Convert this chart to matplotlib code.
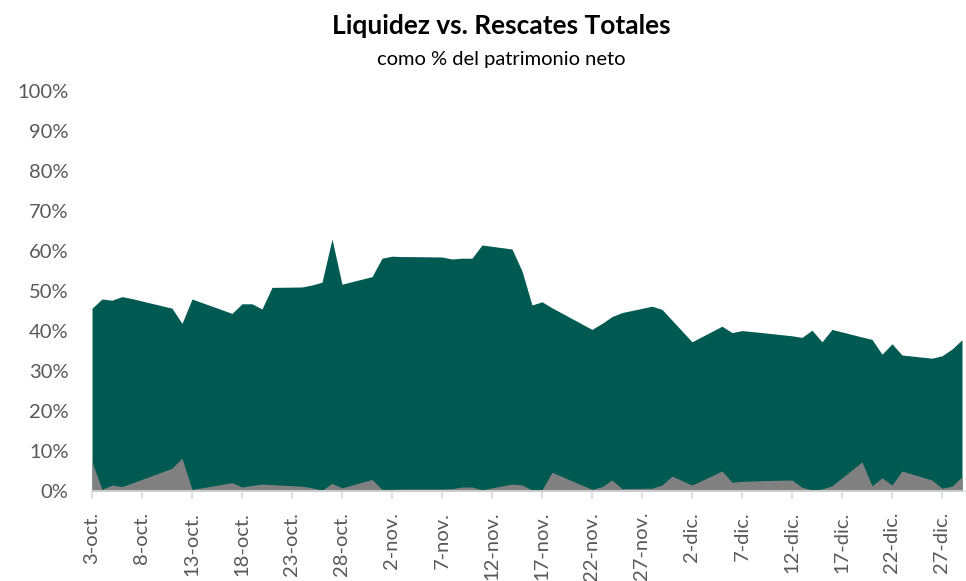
import pandas as pd
import matplotlib
matplotlib.use("Agg")
import matplotlib.pyplot as plt
import matplotlib.dates as mdates
from matplotlib.ticker import FixedLocator, FuncFormatter

# fechas (2022), solo días hábiles con dato
fechas = [
    "10-03", "10-04", "10-05", "10-06", "10-07", "10-11", "10-12", "10-13", "10-14", "10-17",
    "10-18", "10-19", "10-20", "10-21", "10-24", "10-25", "10-26", "10-27", "10-28", "10-31",
    "11-01", "11-02", "11-03", "11-04", "11-07", "11-08", "11-09", "11-10", "11-11", "11-14",
    "11-15", "11-16", "11-17", "11-18", "11-22", "11-23", "11-24", "11-25", "11-28", "11-29", "11-30",
    "12-01", "12-02", "12-05", "12-06", "12-07", "12-09", "12-12", "12-13", "12-14", "12-15",
    "12-16", "12-19", "12-20", "12-21", "12-22", "12-23", "12-26", "12-27", "12-28", "12-29",
]

liquidez = [
    45.7, 48.0, 47.7, 48.6, 48.1, 45.7, 41.9, 48.0, 47.1, 44.4,
    46.8, 46.8, 45.5, 50.9, 51.0, 51.5, 52.2, 63.0, 51.7, 53.6,
    58.2, 58.7, 58.6, 58.6, 58.5, 58.0, 58.2, 58.2, 61.5, 60.5,
    55.0, 46.5, 47.3, 45.8, 40.4, 41.9, 43.6, 44.6, 46.2, 45.4, 42.7,
    40.0, 37.3, 41.2, 39.6, 40.1, 39.6, 38.8, 38.4, 40.2, 37.3,
    40.4, 38.5, 37.9, 34.2, 36.8, 34.0, 33.2, 33.8, 35.5, 37.8,
]

rescates = [
    7.3, 0.4, 1.5, 1.1, 2.0, 5.7, 8.2, 0.4, 0.8, 2.1,
    1.0, 1.4, 1.75, 1.6, 1.2, 0.8, 0.2, 1.9, 0.8, 2.9,
    0.4, 0.4, 0.5, 0.5, 0.5, 0.6, 1.0, 1.0, 0.3, 1.75,
    1.5, 0.25, 0.3, 4.7, 0.4, 1.1, 2.75, 0.6, 0.7, 1.5, 3.7,
    2.6, 1.5, 5.0, 2.2, 2.4, 2.6, 2.75, 0.9, 0.3, 0.5,
    1.3, 7.3, 1.3, 3.3, 1.5, 5.0, 2.75, 0.7, 1.2, 3.6,
]

meses = {10: "oct.", 11: "nov.", 12: "dic."}

x = mdates.date2num(pd.to_datetime(["2022-" + f for f in fechas]))

plt.rcParams["font.family"] = ["Lato", "DejaVu Sans"]

fig = plt.figure(figsize=(9.66, 5.81), dpi=100)
ax = fig.add_axes([92 / 966, 1 - 491 / 581, 1 - 92 / 966, 400 / 581])

ax.fill_between(x, 0, [v / 100 for v in liquidez], color="#005A52", lw=0)
ax.fill_between(x, 0, [v / 100 for v in rescates], color="#808080", lw=0)

ax.set_ylim(0, 1)
ax.set_xlim(x[0], x[-1] + 0.4)
ax.set_yticks([i / 10 for i in range(11)])
ax.set_yticklabels([f"{i * 10}%" for i in range(11)], color="#595959", fontsize=14.5)

ticks = [x[0] + 5 * i for i in range(18)]
ax.xaxis.set_major_locator(FixedLocator(ticks))
ax.xaxis.set_major_formatter(FuncFormatter(
    lambda v, p: f"{mdates.num2date(v).day}-{meses[mdates.num2date(v).month]}"))
for lab in ax.get_xticklabels():
    lab.set_rotation(90)
    lab.set_color("#595959")
    lab.set_fontsize(14.5)

for s in ["top", "right", "left"]:
    ax.spines[s].set_visible(False)
ax.spines["bottom"].set_color("#d9d9d9")
ax.spines["bottom"].set_linewidth(1.2)
ax.tick_params(axis="y", length=0, pad=17)
ax.tick_params(axis="x", length=6, width=1.2, color="#d9d9d9", pad=9)

fig.text(0.519, 0.955, "Liquidez vs. Rescates Totales", ha="center", va="center",
         fontsize=19, fontweight="bold", color="#000000")
fig.text(0.519, 0.898, "como % del patrimonio neto", ha="center", va="center",
         fontsize=14.5, color="#000000")

fig.savefig("out.png", dpi=100)
